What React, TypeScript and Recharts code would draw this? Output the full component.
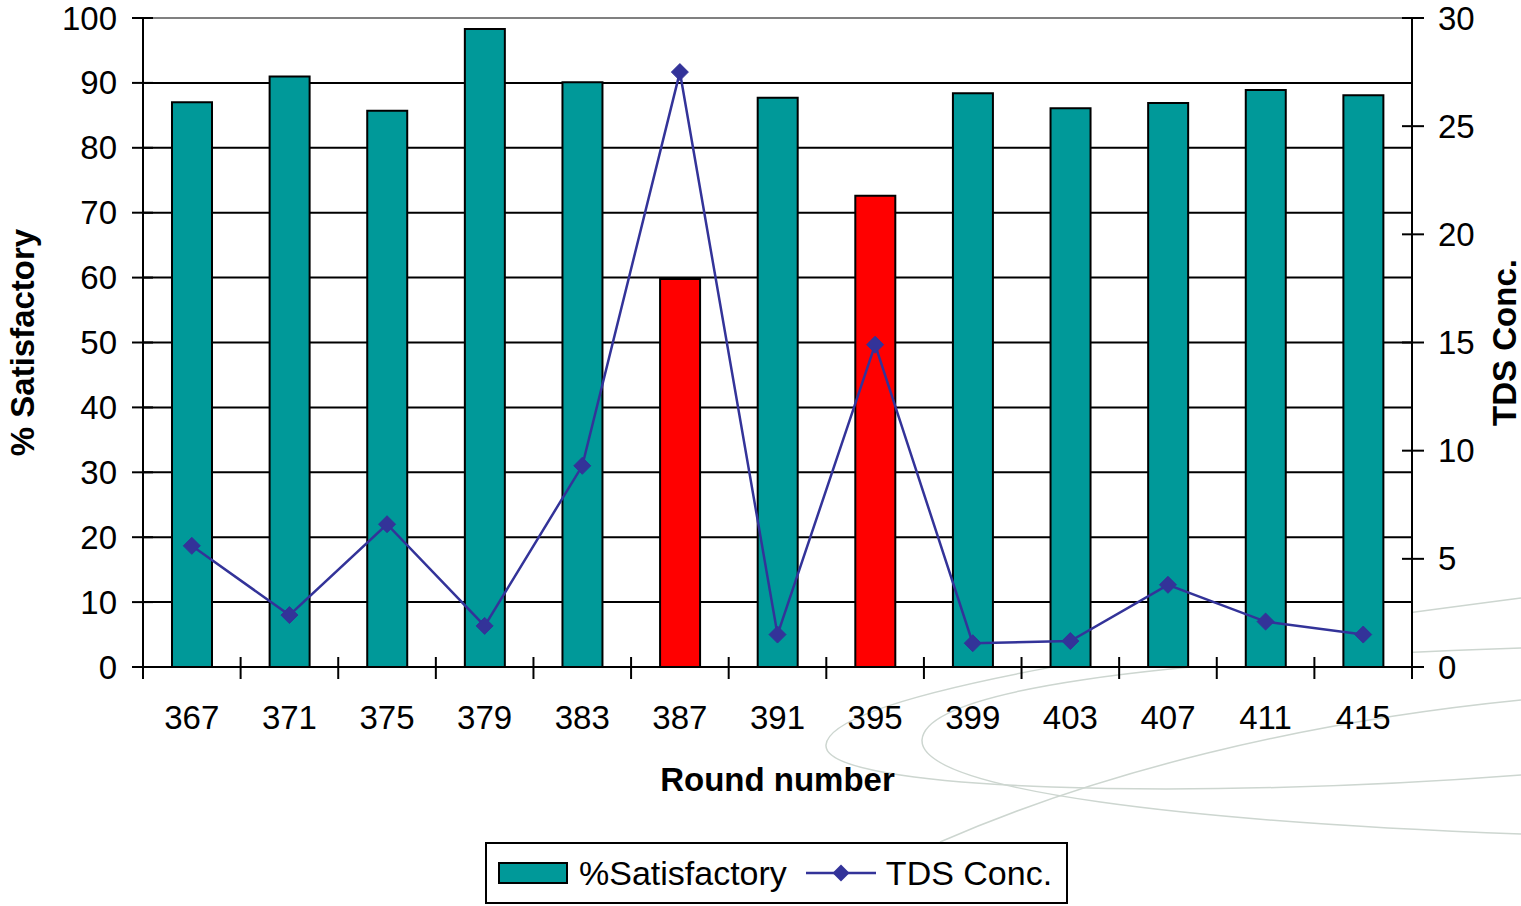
import React from "react";
import {
  ComposedChart,
  Bar,
  Line,
  Cell,
  XAxis,
  YAxis,
  CartesianGrid,
  Legend,
  ReferenceLine,
} from "recharts";

const ROUNDS = ["367", "371", "375", "379", "383", "387", "391", "395", "399", "403", "407", "411", "415"];
const SATISFACTORY = [87, 91, 85.7, 98.3, 90.1, 59.8, 87.7, 72.6, 88.4, 86.1, 86.9, 88.9, 88.1];
const TDS = [5.6, 2.4, 6.6, 1.9, 9.3, 27.5, 1.5, 14.9, 1.1, 1.2, 3.8, 2.1, 1.5];
const FLAGGED = ["387", "395"];
const LEFT_TICKS = [0, 10, 20, 30, 40, 50, 60, 70, 80, 90, 100];
const RIGHT_TICKS = [0, 5, 10, 15, 20, 25, 30];

const W = 1521;
const H = 906;
const FONT = "'Liberation Sans', Arial, sans-serif";
const TEAL = "#009999";
const RED = "#ff0000";
const NAVY = "#333399";
const FS = 33;

const data = ROUNDS.map((r, i) => ({ round: r, sat: SATISFACTORY[i], tds: TDS[i] }));

function XTick(props: any) {
  const { x, y, payload, index, visibleTicksCount } = props;
  const off = payload?.offset ?? (1412 - 143) / ROUNDS.length / 2;
  return (
    <g>
      <line x1={x - off} x2={x - off} y1={y - 10} y2={y + 12} stroke="#000" strokeWidth={2} />
      {index === visibleTicksCount - 1 && (
        <line x1={x + off} x2={x + off} y1={y - 10} y2={y + 12} stroke="#000" strokeWidth={2} />
      )}
      <text x={x} y={y + 50} textAnchor="middle" dominantBaseline="central" fontSize={FS} fontFamily={FONT} fill="#000">
        {payload.value}
      </text>
    </g>
  );
}

function LeftTick(props: any) {
  const { x, y, payload } = props;
  return (
    <g>
      <line x1={x - 11} x2={x + 10} y1={y} y2={y} stroke="#000" strokeWidth={2} />
      <text x={x - 26} y={y} textAnchor="end" dominantBaseline="central" fontSize={FS} fontFamily={FONT} fill="#000">
        {payload.value}
      </text>
    </g>
  );
}

function RightTick(props: any) {
  const { x, y, payload } = props;
  return (
    <g>
      <line x1={x - 10} x2={x + 12} y1={y} y2={y} stroke="#000" strokeWidth={2} />
      <text x={x + 26} y={y} textAnchor="start" dominantBaseline="central" fontSize={FS} fontFamily={FONT} fill="#000">
        {payload.value}
      </text>
    </g>
  );
}

function Diamond(props: any) {
  const { cx, cy } = props;
  if (cx == null || cy == null) return null;
  const r = 8.5;
  return <polygon points={`${cx},${cy - r} ${cx + r},${cy} ${cx},${cy + r} ${cx - r},${cy}`} fill={NAVY} stroke={NAVY} />;
}

function LegendBox() {
  return (
    <div
      style={{
        boxSizing: "border-box",
        width: 583,
        height: 62,
        border: "2px solid #000",
        background: "#fff",
        display: "flex",
        alignItems: "center",
        fontFamily: FONT,
        fontSize: 34,
        color: "#000",
        paddingLeft: 11,
        whiteSpace: "nowrap",
      }}
    >
      <span style={{ display: "inline-block", boxSizing: "border-box", width: 70, height: 22, background: TEAL, border: "2px solid #000" }} />
      <span style={{ marginLeft: 11 }}>%Satisfactory</span>
      <svg width={70} height={20} style={{ marginLeft: 19 }}>
        <line x1={0} x2={70} y1={10} y2={10} stroke={NAVY} strokeWidth={2.5} />
        <polygon points="35,1.5 43.5,10 35,18.5 26.5,10" fill={NAVY} />
      </svg>
      <span style={{ marginLeft: 10 }}>TDS Conc.</span>
    </div>
  );
}

export default function App() {
  return (
    <div style={{ position: "absolute", left: 0, top: 0, width: W, height: H, background: "#fff" }}>
      {/* faint decorative swirl behind the chart */}
      <svg width={W} height={H} style={{ position: "absolute", left: 0, top: 0 }}>
        <g fill="none" stroke="#cdd6d0" strokeWidth={1.5}>
          <path d="M 1521 598 C 1200 640, 830 690, 826 745 C 822 792, 1200 800, 1521 775" />
          <path d="M 1521 648 C 1150 660, 925 690, 922 740 C 920 792, 1200 822, 1521 834" />
          <path d="M 940 842 C 1100 772, 1300 722, 1521 700" />
        </g>
      </svg>
      <div style={{ position: "absolute", left: 0, top: 0 }}>
        <ComposedChart
          width={W}
          height={H}
          data={data}
          margin={{ top: 18, right: 49, bottom: 179, left: 43 }}
          barSize={40}
        >
          <CartesianGrid yAxisId="l" vertical={false} stroke="#000" strokeWidth={2} fill="#fff" />
          <XAxis
            dataKey="round"
            height={60}
            stroke="#000"
            strokeWidth={2}
            tickLine={false}
            tickSize={0}
            tickMargin={0}
            tick={<XTick />}
            interval={0}
            label={{
              content: (p: any) => (
                <text
                  x={p.viewBox.x + p.viewBox.width / 2}
                  y={779}
                  textAnchor="middle"
                  dominantBaseline="central"
                  fontSize={FS}
                  fontWeight="bold"
                  fontFamily={FONT}
                  fill="#000"
                >
                  Round number
                </text>
              ),
            }}
          />
          <YAxis
            yAxisId="l"
            width={100}
            domain={[0, 100]}
            ticks={LEFT_TICKS}
            interval={0}
            stroke="#000"
            strokeWidth={2}
            tickLine={false}
            tickSize={0}
            tickMargin={0}
            tick={<LeftTick />}
            label={{
              content: (p: any) => (
                <text
                  transform={`translate(22, ${p.viewBox.y + p.viewBox.height / 2}) rotate(-90)`}
                  textAnchor="middle"
                  dominantBaseline="central"
                  fontSize={FS}
                  fontWeight="bold"
                  fontFamily={FONT}
                  fill="#000"
                >
                  % Satisfactory
                </text>
              ),
            }}
          />
          <YAxis
            yAxisId="r"
            orientation="right"
            width={60}
            domain={[0, 30]}
            ticks={RIGHT_TICKS}
            interval={0}
            stroke="#000"
            strokeWidth={2}
            tickLine={false}
            tickSize={0}
            tickMargin={0}
            tick={<RightTick />}
            label={{
              content: (p: any) => (
                <text
                  transform={`translate(1504, ${p.viewBox.y + p.viewBox.height / 2}) rotate(-90)`}
                  textAnchor="middle"
                  dominantBaseline="central"
                  fontSize={FS}
                  fontWeight="bold"
                  fontFamily={FONT}
                  fill="#000"
                >
                  TDS Conc.
                </text>
              ),
            }}
          />
          <ReferenceLine yAxisId="l" y={100} stroke="#808080" strokeWidth={2} />
          <Bar yAxisId="l" dataKey="sat" name="%Satisfactory" stroke="#000" strokeWidth={2} isAnimationActive={false}>
            {data.map((d) => (
              <Cell key={d.round} fill={FLAGGED.includes(d.round) ? RED : TEAL} />
            ))}
          </Bar>
          <Line
            yAxisId="r"
            dataKey="tds"
            name="TDS Conc."
            stroke={NAVY}
            strokeWidth={2.5}
            dot={<Diamond />}
            activeDot={false}
            isAnimationActive={false}
          />
          <Legend
            layout="vertical"
            align="center"
            verticalAlign="middle"
            content={() => <LegendBox />}
            wrapperStyle={{ left: 485, top: 842, width: 583, height: 62 }}
          />
        </ComposedChart>
      </div>
    </div>
  );
}
